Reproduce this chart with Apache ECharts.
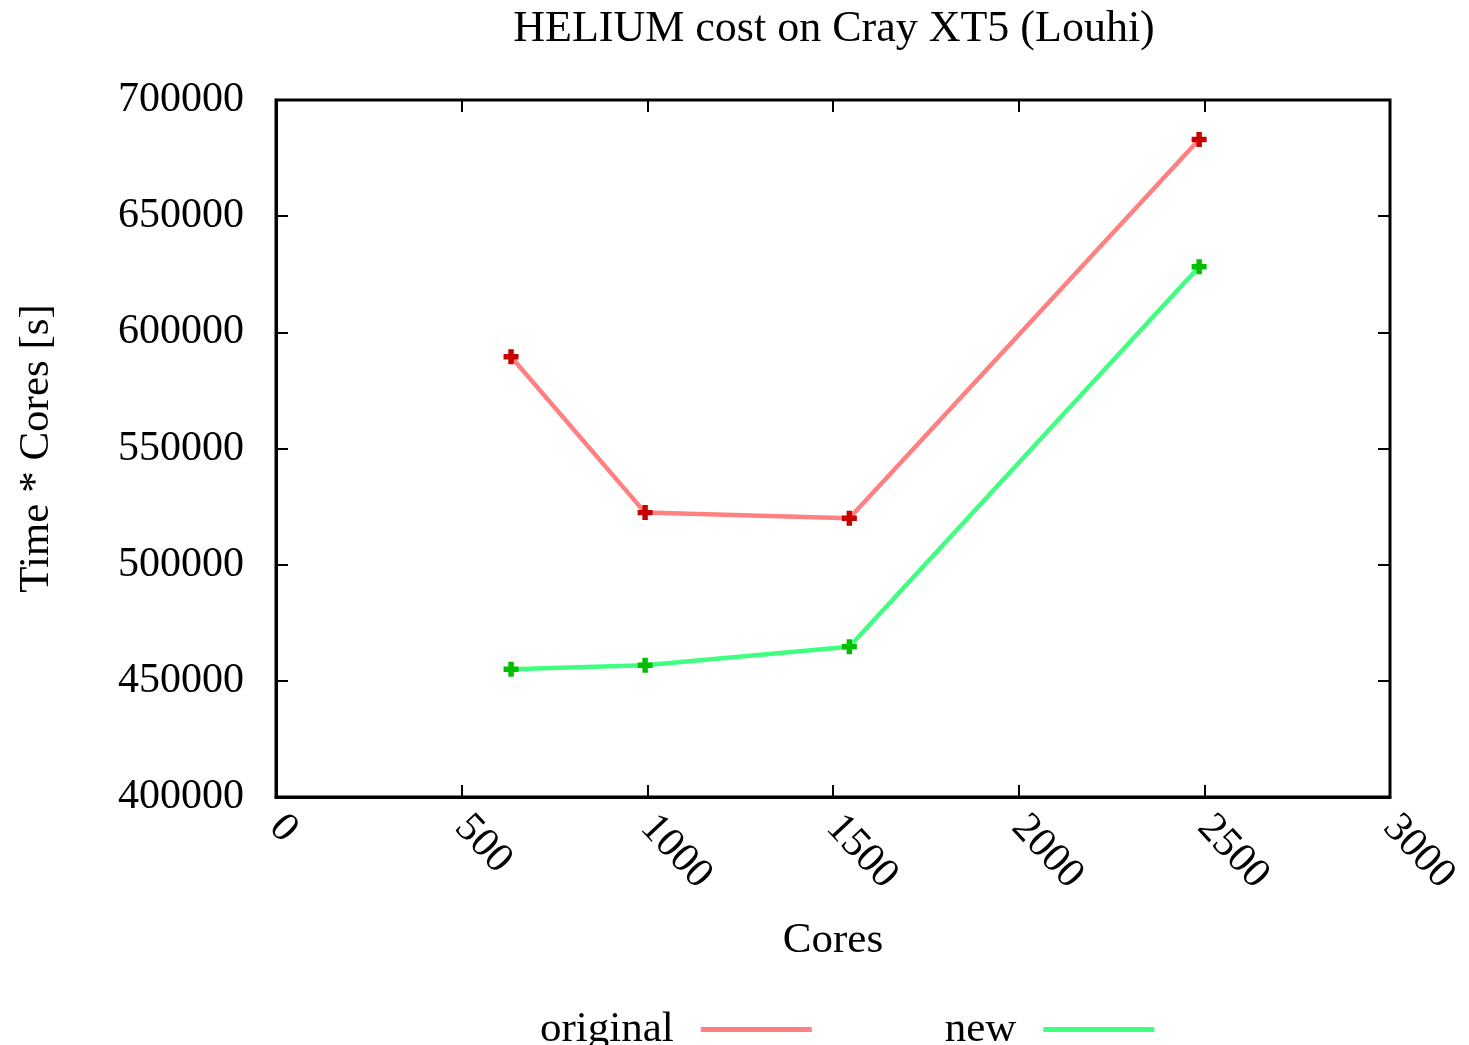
<!DOCTYPE html>
<html>
<head>
<meta charset="utf-8">
<script src="https://cdn.jsdelivr.net/npm/echarts@6/dist/echarts.min.js"></script>
<style>html,body{margin:0;padding:0;background:#fff}#c{width:1469px;height:1045px}</style>
</head>
<body>
<div id="c"></div>
<script>
const cores = [633, 994, 1544, 2486];
const originalCost = [589500, 522400, 520000, 683000];
const newCost = [455000, 456700, 464700, 628200];
const seriesNames = ['original', 'new'];
const xTicks = [0, 500, 1000, 1500, 2000, 2500, 3000];
const yTicks = [400000, 450000, 500000, 550000, 600000, 650000, 700000];

const FONT = 'Liberation Serif';
const plus = 'path://M3.5,0 H7.5 V3.5 H11 V7.5 H7.5 V11 H3.5 V7.5 H0 V3.5 H3.5 Z';
const pair = (xs, ys) => xs.map((x, i) => [x, ys[i]]);
const plain = v => String(v);

const chart = echarts.init(document.getElementById('c'));
const mkTick = () => ({show: true, inside: true, length: 12, lineStyle: {color: '#000', width: 2}});
const hiddenLine = () => ({show: false, onZero: false});
const yMin = yTicks[0], yMax = yTicks[yTicks.length - 1];
chart.setOption({
  animation: false,
  backgroundColor: '#fff',
  title: {
    text: 'HELIUM cost on Cray XT5 (Louhi)',
    left: 829, top: 2, textAlign: 'center',
    textStyle: {fontFamily: FONT, fontSize: 44, fontWeight: 'normal', color: '#000'}
  },
  legend: {
    data: [
      {name: seriesNames[0], icon: 'rect', itemStyle: {color: '#ff8080'}},
      {name: seriesNames[1], icon: 'rect', itemStyle: {color: '#40ff80'}}
    ],
    left: 535, top: 1003, align: 'right', itemWidth: 111, itemHeight: 5, itemGap: 133,
    textStyle: {fontFamily: FONT, fontSize: 43, color: '#000', padding: [0, 22, 0, 0]}
  },
  grid: {left: 276, right: 79, top: 100, bottom: 248, outerBoundsMode: 'none', containLabel: false,
         show: true, borderColor: '#000', borderWidth: 3, backgroundColor: 'transparent'},
  xAxis: [{
    type: 'value', position: 'bottom', min: xTicks[0], max: xTicks[xTicks.length - 1], interval: 500,
    name: 'Cores', nameLocation: 'middle', nameGap: 122,
    nameTextStyle: {fontFamily: FONT, fontSize: 43, color: '#000'},
    axisLine: {show: true, onZero: false, lineStyle: {color: '#000', width: 3}},
    axisTick: mkTick(),
    splitLine: {show: false},
    axisLabel: {rotate: -47, margin: 24, fontFamily: FONT, fontSize: 42, color: '#000', formatter: plain, showMaxLabel: true, showMinLabel: true}
  }, {
    type: 'value', position: 'top', min: xTicks[0], max: xTicks[xTicks.length - 1], interval: 500,
    axisLine: hiddenLine(), axisTick: mkTick(), axisLabel: {show: false}, splitLine: {show: false}
  }],
  yAxis: [{
    type: 'value', position: 'left', min: yMin, max: yMax, interval: 50000,
    name: 'Time * Cores [s]', nameLocation: 'middle', nameGap: 218,
    nameTextStyle: {fontFamily: FONT, fontSize: 43, color: '#000'},
    axisLine: {show: true, onZero: false, lineStyle: {color: '#000', width: 3}},
    axisTick: mkTick(),
    splitLine: {show: false},
    axisLabel: {margin: 32, fontFamily: FONT, fontSize: 42, color: '#000', formatter: plain}
  }, {
    type: 'value', position: 'right', min: yMin, max: yMax, interval: 50000,
    axisLine: hiddenLine(), axisTick: mkTick(), axisLabel: {show: false}, splitLine: {show: false}
  }],
  series: [{
    name: seriesNames[0], type: 'line', data: pair(cores, originalCost),
    symbol: plus, symbolSize: 15, showAllSymbol: true,
    lineStyle: {color: '#ff8080', width: 4.5},
    itemStyle: {color: '#c80000'}, z: 3
  }, {
    name: seriesNames[1], type: 'line', data: pair(cores, newCost),
    symbol: plus, symbolSize: 15, showAllSymbol: true,
    lineStyle: {color: '#40ff80', width: 4.5},
    itemStyle: {color: '#00c000'}, z: 3
  }]
});
</script>
</body>
</html>
